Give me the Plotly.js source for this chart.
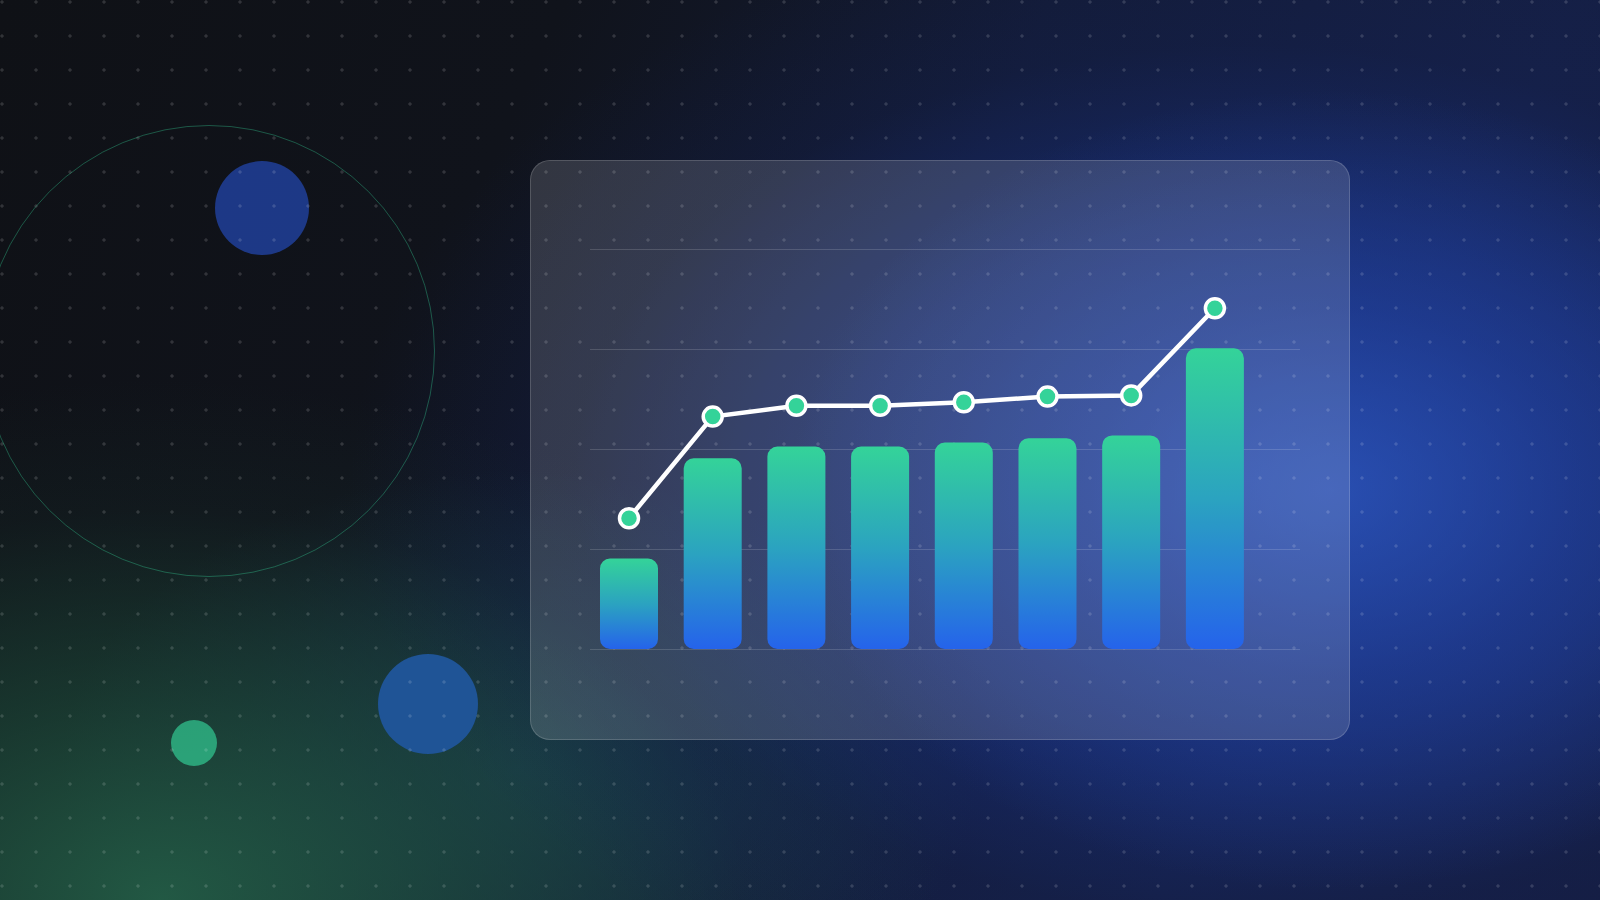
<!DOCTYPE html>
<html>
<head>
<meta charset="utf-8">
<script src="https://cdn.plot.ly/plotly-3.0.1.min.js"></script>
<style>
  html, body { margin:0; padding:0; width:1600px; height:900px; overflow:hidden; background:#0f1117; }
  #bg { position:absolute; left:0; top:0; width:1600px; height:900px;
    background:
      radial-gradient(ellipse 540px 400px at 1330px 490px, rgba(48,92,200,0.66) 0%, rgba(40,78,185,0.4) 45%, rgba(30,60,160,0) 100%),
      radial-gradient(ellipse 900px 580px at 1250px 480px, rgba(28,58,150,0.85) 0%, rgba(24,48,128,0.6) 45%, rgba(20,36,96,0.2) 75%, rgba(20,30,80,0) 100%),
      radial-gradient(ellipse 780px 520px at 160px 900px, rgba(36,96,72,0.9) 0%, rgba(30,78,60,0.6) 40%, rgba(24,50,44,0.22) 75%, rgba(20,40,40,0) 100%),
      radial-gradient(ellipse 460px 300px at 520px 770px, rgba(26,72,96,0.6) 0%, rgba(26,60,80,0) 100%),
      linear-gradient(115deg, #0f1116 0%, #10131b 28%, #131b36 52%, #151f44 78%, #151d40 100%);
  }
  .circ { position:absolute; border-radius:50%; }
  #ring { left:-17px; top:125px; width:452px; height:452px; border:1.5px solid rgba(52,211,153,0.36); box-sizing:border-box; }
  #c1 { left:215px; top:161px; width:94px; height:94px; background:rgba(31,59,140,0.95); }
  #c2 { left:378px; top:654px; width:100px; height:100px; background:rgb(31,84,150); }
  #c3 { left:171px; top:720px; width:46px; height:46px; background:rgba(52,211,153,0.66); }
  #dots { position:absolute; left:0; top:0; width:1600px; height:900px;
    background-image: radial-gradient(circle, rgba(255,255,255,0.14) 1.3px, rgba(255,255,255,0) 2px);
    background-size:34px 34px; background-position:-15px -15px; }
  #card { position:absolute; left:530px; top:160px; width:820px; height:580px; box-sizing:border-box;
    border-radius:20px; border:1px solid rgba(255,255,255,0.16);
    background: rgba(255,255,255,0.145); }
  #chart { position:absolute; left:0; top:0; width:1600px; height:900px; }
</style>
</head>
<body>
<div id="bg"></div>
<div id="ring" class="circ"></div>
<div id="c1" class="circ"></div>
<div id="c2" class="circ"></div>
<div id="c3" class="circ"></div>
<div id="dots"></div>
<div id="card"></div>
<div id="chart"></div>
<script>
// Data
const categories = ["P1", "P2", "P3", "P4", "P5", "P6", "P7", "P8"];
const barValues  = [22.6, 47.7, 50.6, 50.6, 51.6, 52.7, 53.4, 75.2];
const lineValues = [32.7, 58.1, 60.8, 60.8, 61.7, 63.1, 63.4, 85.2];
const gridTicks  = [0, 25, 50, 75, 100];

const traces = [
  {
    type: "bar",
    x: categories,
    y: barValues,
    width: 0.693,
    marker: { color: "#2ba3c0", line: { width: 0 }, cornerradius: 10 },
    hoverinfo: "skip"
  },
  {
    type: "scatter",
    mode: "lines+markers",
    x: categories,
    y: lineValues,
    line: { color: "#ffffff", width: 4.5 },
    marker: { size: 19, color: "#34d399", line: { color: "#ffffff", width: 3.5 } },
    hoverinfo: "skip"
  }
];

const layout = {
  width: 1600,
  height: 900,
  margin: { l: 590, r: 300, t: 238, b: 240, pad: 0 },
  paper_bgcolor: "rgba(0,0,0,0)",
  plot_bgcolor: "rgba(0,0,0,0)",
  showlegend: false,
  xaxis: {
    type: "category",
    range: [-0.466, 8.017],
    showgrid: false, zeroline: false, showline: false,
    showticklabels: false, ticks: "", fixedrange: true
  },
  yaxis: {
    range: [-2.75, 102.75],
    tickvals: gridTicks,
    showgrid: true, gridcolor: "rgba(255,255,255,0.15)", gridwidth: 1,
    zeroline: false, showline: false, showticklabels: false, ticks: "", fixedrange: true
  }
};

Plotly.newPlot("chart", traces, layout, { displayModeBar: false, staticPlot: true }).then(function (gd) {
  const svg = gd.querySelector(".main-svg");
  const ns = "http://www.w3.org/2000/svg";
  let defs = svg.querySelector("defs");
  if (!defs) { defs = document.createElementNS(ns, "defs"); svg.insertBefore(defs, svg.firstChild); }
  const grad = document.createElementNS(ns, "linearGradient");
  grad.setAttribute("id", "barGrad");
  grad.setAttribute("x1", "0"); grad.setAttribute("y1", "0");
  grad.setAttribute("x2", "0"); grad.setAttribute("y2", "1");
  [["0", "#34d399"], ["0.5", "#2ba3c0"], ["1", "#2563eb"]].forEach(function (s) {
    const st = document.createElementNS(ns, "stop");
    st.setAttribute("offset", s[0]); st.setAttribute("stop-color", s[1]);
    grad.appendChild(st);
  });
  defs.appendChild(grad);
  gd.querySelectorAll(".barlayer .point path").forEach(function (p) {
    const b = p.getBBox();
    const r = Math.min(10, b.width / 2, b.height / 2);
    const x0 = b.x, y0 = b.y, x1 = b.x + b.width, y1 = b.y + b.height;
    const d = "M" + (x0 + r) + "," + y0 + "H" + (x1 - r) + "A" + r + "," + r + " 0 0 1 " + x1 + "," + (y0 + r) +
      "V" + (y1 - r) + "A" + r + "," + r + " 0 0 1 " + (x1 - r) + "," + y1 +
      "H" + (x0 + r) + "A" + r + "," + r + " 0 0 1 " + x0 + "," + (y1 - r) +
      "V" + (y0 + r) + "A" + r + "," + r + " 0 0 1 " + (x0 + r) + "," + y0 + "Z";
    p.setAttribute("d", d);
    p.style.fill = "url(#barGrad)";
    p.style.fillOpacity = "1";
  });
});
</script>
</body>
</html>
